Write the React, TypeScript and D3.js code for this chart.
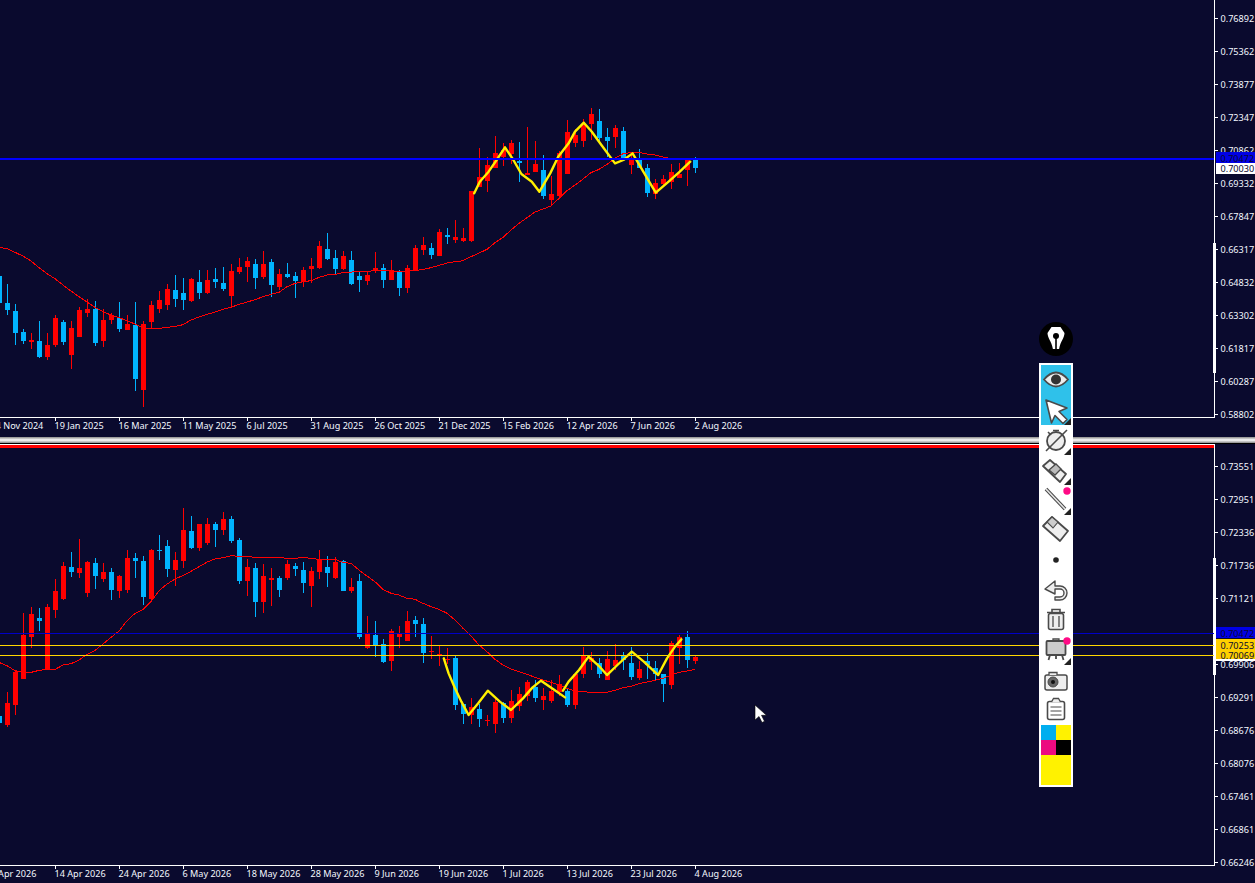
import React, { useLayoutEffect } from "react";
import * as d3 from "d3";

// All prices are in points (1 point = 0.00001). The first value of every series belongs to bar -1.
const POINT = 0.00001;
const FIRST_BAR = -1;

const topOpen = [65105,63872,63506,62547,62090,62135,61404,61953,63004,61496,
 62318,63415,63598,62135,63095,63187,62638,62866,59897,63004,
 63598,63780,64466,64329,63963,64831,64329,64968,64785,64191,
 65288,65516,65654,65060,65745,64603,65197,65105,64877,65425,
 65471,66339,65928,65425,65836,65105,64876,65379,65470,64922,
 65287,64556,65333,66292,66384,66018,66978,66749,66704,66704,
 69171,69445,70039,70542,70679,70359,69719,69856,69948,68577,
 68760,69765,71181,71273,72049,72187,71455,71455,71730,70176,
 70405,70039,68851,69308,69399,69582,69948,70405];
const topHigh = [65400,64740,63826,62668,62501,63049,62501,63323,63095,63049,
 63689,64054,63963,63598,63415,63917,63323,63917,63049,63963,
 64420,64740,65151,65014,65014,65379,65379,65471,65516,65654,
 65928,65973,65882,66248,65882,65425,65699,65288,65516,65928,
 66704,67070,66293,66248,66247,65287,65333,66201,65653,65836,
 65379,65607,66521,66887,66612,67252,67298,67663,67298,68988,
 70953,70542,71501,71181,71318,71227,71912,71273,70633,69674,
 70800,72232,71800,72278,72780,72735,71867,72004,71912,70709,
 70907,70222,69537,69719,70222,70268,70405,70542];
const topLow = [63700,63323,61953,61998,61770,61359,61267,61861,61953,60856,
 62318,63232,61907,61861,62912,62547,62638,59851,59120,62729,
 63415,63552,63689,63552,63917,64054,64283,64557,64420,63689,
 65197,64831,64511,64968,64146,64466,65014,64100,64603,64785,
 65425,65836,65197,65379,64693,64373,64693,65242,64556,64922,
 64191,64328,65333,66064,65881,66018,66567,66612,66658,66658,
 69171,68942,70039,70130,70222,69399,69719,69856,68623,68349,
 68700,69765,70999,70999,71318,71273,70557,70953,70481,69765,
 70039,68714,68623,69262,69080,69582,69217,69811];
const topClose = [63887,63552,62501,62135,62181,61404,61953,63187,62090,62729,
 63552,63598,62044,63095,63323,62684,62912,60399,62912,63780,
 64009,64511,64054,64009,64968,64329,64923,64831,64511,65334,
 65516,65791,65014,65654,64694,65197,65060,64877,65379,65562,
 66476,65882,65425,66019,64739,64922,65150,65470,64922,65379,
 64556,65470,66384,66521,66064,67115,66887,66887,66841,68988,
 69628,70176,70724,70862,71181,70268,69811,70222,68760,68851,
 70724,71684,71547,72049,72506,71410,71273,71867,70496,70450,
 70039,68897,69354,69537,69856,69765,70405,70030];
const topMA = [66415,66354,66187,66019,65791,65486,65212,64983,64694,64420,
 64161,63917,63674,63476,63323,63202,63064,62912,62745,62699,
 62714,62760,62806,62882,63095,63232,63354,63460,63582,63674,
 63811,63917,64024,64161,64268,64359,64618,64770,64846,64892,
 65044,65151,65181,65258,65287,65303,65318,65348,65379,65348,
 65303,65348,65348,65409,65485,65592,65699,65759,65805,65988,
 66155,66323,66628,66871,67206,67511,67770,68029,68166,68303,
 68653,69003,69262,69536,69826,69978,70207,70481,70694,70740,
 70755,70679,70633,70542,70465,70435,70435,70405];

const botOpen = [68939,68772,69141,69621,70396,70746,69787,70894,71097,71687,
 71576,71207,71761,71466,71595,71244,71263,71853,71798,71097,
 72001,72074,71632,71798,72351,72038,72130,72480,72370,72573,
 72185,71429,71669,71041,71447,71484,71484,71705,71632,71337,
 71595,71687,71484,71798,71244,71429,70194,70433,70267,69954,
 70396,70323,70710,70636,70120,70064,69972,70009,69161,68958,
 69068,68847,68792,69179,68902,69124,69308,69474,69234,69216,
 69382,69400,69142,69714,69935,69917,69603,69861,70064,69917,
 69640,69954,69825,69714,69511,70194,70396,69954];
const botHigh = [68988,69381,69787,70838,70949,70931,71005,71466,71779,71964,
 72204,71798,71853,71761,71669,71539,72001,71945,71890,72019,
 72277,72185,71964,72775,72628,72480,72591,72517,72702,72628,
 72222,71835,71761,71742,71669,71521,71816,71761,71779,71687,
 72001,71890,71872,71816,71484,71560,70784,70692,70360,70544,
 70599,70876,70784,70747,70415,70230,70194,70046,69161,69271,
 69161,68958,69290,69197,69419,69474,69603,69603,69456,69603,
 69696,69456,69732,70212,70120,70009,70138,70267,70120,70212,
 69954,70101,69954,69714,70323,70433,70507,70046];
const botLow = [68742,68736,68957,69621,70193,70506,69787,70746,71078,71503,
 71484,71134,71281,71410,71078,71115,71207,71484,70986,71060,
 71816,71503,71337,71669,72019,71982,72093,72056,72277,72130,
 71373,71152,70765,70838,70968,71134,71447,71521,71207,70949,
 71466,71318,71466,71244,71207,70360,70175,70027,69911,69769,
 70194,70323,70396,69917,69991,69862,69898,69050,68792,68792,
 68736,68755,68626,68810,68810,69031,69216,69197,69050,69179,
 69308,69105,69068,69640,69788,69640,69603,69788,69788,69603,
 69603,69622,69603,69197,69437,69898,69825,69898];
const botClose = [68809,69178,69750,70433,70820,70691,70949,71244,71705,71595,
 71669,71779,71521,71595,71263,71521,71853,71798,71134,72001,
 71982,71650,71816,72370,72038,72480,72480,72370,72573,72167,
 71429,71687,71041,71521,71484,71263,71742,71650,71392,71613,
 71835,71576,71779,71244,71318,70396,70452,70249,69935,70507,
 70452,70692,70636,70101,70138,70083,69991,69142,68976,69105,
 68884,68865,69197,68902,69216,69345,69566,69271,69308,69400,
 69529,69142,69714,70046,70009,69714,69991,69972,69972,69659,
 69806,69880,69714,69529,70286,70396,69972,70027];
const botMA = [69928,69867,69775,69744,69744,69781,69799,69799,69879,69904,
 69971,70076,70150,70267,70390,70506,70697,70832,70906,71048,
 71250,71373,71466,71533,71607,71693,71779,71835,71859,71896,
 71884,71884,71865,71865,71865,71865,71847,71847,71865,71847,
 71828,71828,71828,71773,71755,71632,71521,71416,71276,71203,
 71171,71110,71092,71018,70956,70907,70834,70710,70557,70415,
 70249,70125,69985,69880,69806,69757,69708,69653,69604,69561,
 69511,69450,69400,69388,69376,69376,69376,69413,69463,69487,
 69536,69566,69597,69634,69695,69745,69769,69800];

// Hand-drawn pen strokes: bar position (fractional) and price in points.
const topPenBars = [58.4,59.1,60.2,61.2,62.25,63.3,64.3,65.6,66.55,67.9,68.9,70.2,71,72.1,73.1,74.3,76,77.05,78.2,79.3,80.4,81.1,82.7,84.1,85.4];
const topPenPrices = [68882,69415,69872,70405,70983,70405,69765,69415,68958,69795,70557,71166,71699,72110,71699,71090,70252,70405,70709,70024,69338,68912,69415,69872,70328];
const botPenABars = [54.6,55.2,56,56.8,57.7,58.9,60.1,61.6,63,64.5,65.7,66.75,68.3,69.75];
const botPenAPrices = [70003,69726,69450,69204,68958,69173,69406,69204,69050,69265,69468,69591,69431,69283];
const botPenBBars = [69.5,70.2,71.5,72.7,74,75,76.3,78.1,79.6,81.4,82.5,83.5,84.3];
const botPenBPrices = [69406,69573,69788,70034,69861,69695,69880,70126,69941,69695,70003,70218,70353];

const topTicks = ["0.76892","0.75362","0.73877","0.72347","0.70862","0.69332","0.67847","0.66317","0.64832","0.63302","0.61817","0.60287","0.58802"];
const botTicks = ["0.73551","0.72951","0.72336","0.71736","0.71121","0.70506","0.69906","0.69291","0.68676","0.68076","0.67461","0.66861","0.66246"];
const topDates = ["24 Nov 2024","19 Jan 2025","16 Mar 2025","11 May 2025","6 Jul 2025","31 Aug 2025","26 Oct 2025","21 Dec 2025","15 Feb 2026","12 Apr 2026","7 Jun 2026","2 Aug 2026"];
const botDates = ["2 Apr 2026","14 Apr 2026","24 Apr 2026","6 May 2026","18 May 2026","28 May 2026","9 Jun 2026","19 Jun 2026","1 Jul 2026","13 Jul 2026","23 Jul 2026","4 Aug 2026"];
const DATE_STEP_BARS = 8;
const DATE_FIRST_BAR = -2;

const askPrice = 0.70472;
const bidPrice = 0.7003;
const levelA = 0.70253;
const levelB = 0.70069;

const BG = "#0a0a2e";
const UP = "#ff0000";
const DOWN = "#00b4ff";
const PEN = "#fff000";
const FONT = "'Noto Sans', sans-serif";
const FS = 9.1;
const TEXT = "#f4f8ff";

const x = d3.scaleLinear().domain([-1, 86]).range([-1, 695]);
const yTop = d3.scaleLinear().domain([0.58802, 0.76892]).range([414, 18]);
const yBot = d3.scaleLinear().domain([0.66246, 0.73551]).range([862, 466]);

function Panel({ open, high, low, close, ma, y, pens, ticks, dates, axisY, rightTop, thick, clipId, clipTop }: any) {
  const line = d3.line<number>().x((_, i) => x(i + FIRST_BAR)).y((d) => y(d * POINT));
  const penLine = d3.line<[number, number]>().x((d) => x(d[0])).y((d) => y(d[1] * POINT));
  const tickY = d3.scaleLinear().domain([0, ticks.length - 1]).range([y(+ticks[0]), y(+ticks[ticks.length - 1])]);
  return (
    <g>
      <clipPath id={clipId}><rect x={0} y={clipTop} width={1214} height={axisY - clipTop} /></clipPath>
      <g clipPath={`url(#${clipId})`}>
        {open.map((o: number, i: number) => {
          const k = i + FIRST_BAR;
          const cx = Math.round(x(k));
          const c = close[i];
          const col = c >= o ? UP : DOWN;
          const t = Math.round(y(Math.max(o, c) * POINT));
          const b = Math.round(y(Math.min(o, c) * POINT));
          const h = Math.round(y(high[i] * POINT));
          const l = Math.round(y(low[i] * POINT));
          return (
            <g key={i} fill={col} shapeRendering="crispEdges">
              <rect x={cx} y={h} width={1} height={Math.max(1, l - h)} />
              <rect x={cx - 2} y={t} width={5} height={Math.max(1, b - t)} />
            </g>
          );
        })}
        <path d={line(ma) || ""} fill="none" stroke={UP} strokeWidth={1} shapeRendering="crispEdges" />
        {pens.map((p: [number[], number[]], i: number) => (
          <path key={i} d={penLine(p[0].map((b, j) => [b, p[1][j]] as [number, number])) || ""} fill="none" stroke={PEN} strokeWidth={2.4} strokeLinejoin="round" strokeLinecap="round" />
        ))}
      </g>
      {/* time axis */}
      <rect x={0} y={axisY} width={1215} height={1} fill="#fff" shapeRendering="crispEdges" />
      {dates.map((d: string, i: number) => {
        const tx = Math.round(x(DATE_FIRST_BAR + i * DATE_STEP_BARS));
        return (
          <g key={d}>
            {tx >= 0 && <rect x={tx} y={axisY + 1} width={1} height={3} fill="#fff" shapeRendering="crispEdges" />}
            <text x={tx - 0.5} y={axisY + 12} fill={TEXT} fontFamily={FONT} fontSize={FS}>{d}</text>
          </g>
        );
      })}
      {/* price axis */}
      <rect x={1214} y={rightTop} width={1} height={axisY - rightTop + 1} fill="#fff" shapeRendering="crispEdges" />
      <rect x={1213} y={thick[0]} width={3} height={thick[1] - thick[0]} fill="#fff" shapeRendering="crispEdges" />
      {ticks.map((t: string, i: number) => {
        const py = Math.round(tickY(i));
        return (
          <g key={t}>
            <rect x={1215} y={py} width={3} height={1} fill="#fff" shapeRendering="crispEdges" />
            <text x={1220.5} y={py + 3.6} fill={TEXT} fontFamily={FONT} fontSize={FS}>{t}</text>
          </g>
        );
      })}
    </g>
  );
}

function PriceTag({ price, y, fill, up = 5, h = 11, textDy = 3.6 }: any) {
  const py = Math.round(y(price));
  return (
    <g>
      <rect x={1216} y={py - up} width={39} height={h} fill={fill} shapeRendering="crispEdges" />
      <text x={1220.5} y={py + textDy} fill="#0a0a30" fontFamily={FONT} fontSize={FS}>{price.toFixed(5)}</text>
    </g>
  );
}

function Toolbar() {
  const ink = "#4a4a4a";
  const corner = (yy: number) => <path d={`M1071 ${yy}v7h-7z`} fill="#222" />;
  return (
    <g>
      <circle cx={1056} cy={339} r={17} fill="#000" />
      <path d="M1047.5 333l4-6h9l4 6c0 5-4 8-5.4 16h-6.2c-1.4-8-5.400-11-5.400-16z" fill="#fff" />
      <circle cx={1056} cy={336} r={3} fill="#000" />
      <rect x={1055.2} y={337} width={1.6} height={13} fill="#000" />
      <rect x={1039} y={363} width={34} height={424} fill="#fff" />
      <rect x={1041} y={365} width={30} height={60} fill="#2fc1ea" />
      {/* eye */}
      <path d="M1044 379.500q12-14 24 0q-12 14-24 0z" fill="#eee" stroke={ink} strokeWidth={1.8} />
      <circle cx={1056} cy={379.500} r={5} fill="#333" />
      {/* arrow */}
      <path d="M1046 400l21 8-8 3.500 8 8-4 4-8-8-3.500 7.500z" fill="#fff" stroke={ink} strokeWidth={1.6} strokeLinejoin="round" />
      {corner(418)}
      {/* timer */}
      <circle cx={1056} cy={441} r={9} fill="#eee" stroke={ink} strokeWidth={1.8} />
      <path d="M1053 430.500h6M1046 451l21-21M1048 432l3 3" stroke={ink} strokeWidth={1.6} fill="none" />
      {corner(448)}
      {/* highlighter */}
      <path d="M1043 466l7-6 16 14-6 8z" fill="#eee" stroke={ink} strokeWidth={1.8} strokeLinejoin="round" />
      <path d="M1049 470l7-6 5 5-6 6z" fill="#bbb" stroke={ink} strokeWidth={1.3} />
      {corner(478)}
      {/* line */}
      <path d="M1046 489l19 20" stroke={ink} strokeWidth={3.6} />
      <path d="M1046 489l19 20" stroke="#e6e6e6" strokeWidth={1.6} />
      <circle cx={1067} cy={491} r={3.7} fill="#ff0a85" />
      {corner(508)}
      {/* eraser */}
      <path d="M1043 526l9-9 16 14-8 10z" fill="#eee" stroke={ink} strokeWidth={1.8} strokeLinejoin="round" />
      <path d="M1052 517l-5 5 6 6 5-6z" fill="#ccc" stroke={ink} strokeWidth={1.1} />
      {/* dot */}
      <circle cx={1056} cy={560} r={2.8} fill="#222" />
      {/* undo */}
      <path d="M1045 589l10-8v5h5a7 7 0 0 1 0 14h-5v-3h5a4 4 0 0 0 0-8h-5v5z" fill="#eee" stroke={ink} strokeWidth={1.4} strokeLinejoin="round" />
      {/* trash */}
      <path d="M1047 612.500h18M1052 612v-2.500h8v2.500" stroke={ink} strokeWidth={1.6} fill="none" />
      <rect x={1048.5} y={613.500} width={15} height={16} rx={2} fill="#eee" stroke={ink} strokeWidth={1.6} />
      <path d="M1053 616v11M1059 616v11" stroke={ink} strokeWidth={1.3} />
      {/* easel */}
      <rect x={1046.5} y={641} width={19} height={14} rx={1} fill="#ccc" stroke={ink} strokeWidth={1.8} />
      <path d="M1050 655l-1.500 5M1062 655l1.500 5M1056 655v4" stroke={ink} strokeWidth={1.8} />
      <path d="M1053 641v-2h6v2" stroke={ink} strokeWidth={1.3} fill="none" />
      <circle cx={1067} cy={641} r={3.7} fill="#ff0a85" />
      {corner(658)}
      {/* camera */}
      <rect x={1045} y={675} width={22} height={15} rx={2} fill="#eee" stroke={ink} strokeWidth={1.5} />
      <circle cx={1053} cy={682} r={5} fill="#666" stroke={ink} />
      <circle cx={1053} cy={682} r={2} fill="#111" />
      <path d="M1049 675v-2.500h8v2.500" stroke={ink} strokeWidth={1.3} fill="#eee" />
      {/* clipboard */}
      <rect x={1047.5} y={701.500} width={17} height={18} rx={2} fill="#fff" stroke={ink} strokeWidth={1.6} />
      <path d="M1051.5 702l2-3.500h5l2 3.500" stroke={ink} strokeWidth={1.3} fill="#eee" />
      <path d="M1050.5 707h11M1050.5 711h11M1050.5 715h11" stroke={ink} strokeWidth={1.2} />
      {/* swatches */}
      <g shapeRendering="crispEdges">
        <rect x={1041} y={725} width={15} height={15} fill="#00aeef" />
        <rect x={1056} y={725} width={15} height={15} fill="#fff200" />
        <rect x={1041} y={740} width={15} height={15} fill="#ec0a80" />
        <rect x={1056} y={740} width={15} height={15} fill="#000" />
        <rect x={1041} y={755} width={30} height={30} fill="#fff200" />
      </g>
    </g>
  );
}

export default function App() {
  useLayoutEffect(() => {
    document.body.style.margin = "0";
    document.body.style.background = BG;
    document.documentElement.style.overflow = "hidden";
  }, []);
  return (
    <svg width={1255} height={883} viewBox="0 0 1255 883" style={{ display: "block" }}>
      <rect width={1255} height={883} fill={BG} />

      <Panel open={topOpen} high={topHigh} low={topLow} close={topClose} ma={topMA} y={yTop}
        pens={[[topPenBars, topPenPrices]]} ticks={topTicks} dates={topDates}
        axisY={417} rightTop={0} thick={[243, 373]} clipId="clipTop" clipTop={0} />
      <rect x={0} y={Math.round(yTop(askPrice)) - 1} width={1214} height={2} fill="#0000ff" shapeRendering="crispEdges" />
      <PriceTag price={askPrice} y={yTop} fill="#0000e6" up={7} textDy={2.6} />
      <PriceTag price={bidPrice} y={yTop} fill="#ffffff" />

      {/* separator between the two charts */}
      <defs>
        <linearGradient id="sep" x1="0" x2="0" y1="0" y2="1">
          <stop offset="0" stopColor="#8a8a8a" />
          <stop offset="0.5" stopColor="#ffffff" />
          <stop offset="1" stopColor="#8a8a8a" />
        </linearGradient>
      </defs>
      <rect x={0} y={437} width={1255} height={6} fill="url(#sep)" />
      <rect x={0} y={443} width={1255} height={1} fill="#000" />
      <rect x={0} y={444} width={1215} height={1} fill="#fff" shapeRendering="crispEdges" />
      <rect x={0} y={445} width={1214} height={3} fill="#ff0000" shapeRendering="crispEdges" />

      <Panel open={botOpen} high={botHigh} low={botLow} close={botClose} ma={botMA} y={yBot}
        pens={[[botPenABars, botPenAPrices], [botPenBBars, botPenBPrices]]} ticks={botTicks} dates={botDates}
        axisY={865} rightTop={444} thick={[558, 675]} clipId="clipBot" clipTop={448} />
      <g shapeRendering="crispEdges">
        <rect x={0} y={Math.round(yBot(askPrice))} width={1214} height={1} fill="#0000c8" />
        <rect x={0} y={Math.round(yBot(levelA))} width={1214} height={1} fill="#ffd700" />
        <rect x={0} y={Math.round(yBot(levelB))} width={1214} height={1} fill="#ffd700" />
        <rect x={1216} y={649} width={39} height={12} fill="#fff" />
      </g>
      <PriceTag price={askPrice} y={yBot} fill="#0000e6" up={6} />
      <PriceTag price={levelA} y={yBot} fill="#ffd000" up={6} />
      <PriceTag price={levelB} y={yBot} fill="#ffd000" up={6} h={10} />

      <Toolbar />

      {/* mouse pointer */}
      <path d="M755 705v15l4-3.500 3 6 2.500-1.200-3-6h5z" fill="#fff" stroke="#000" strokeWidth={0.6} />
    </svg>
  );
}
